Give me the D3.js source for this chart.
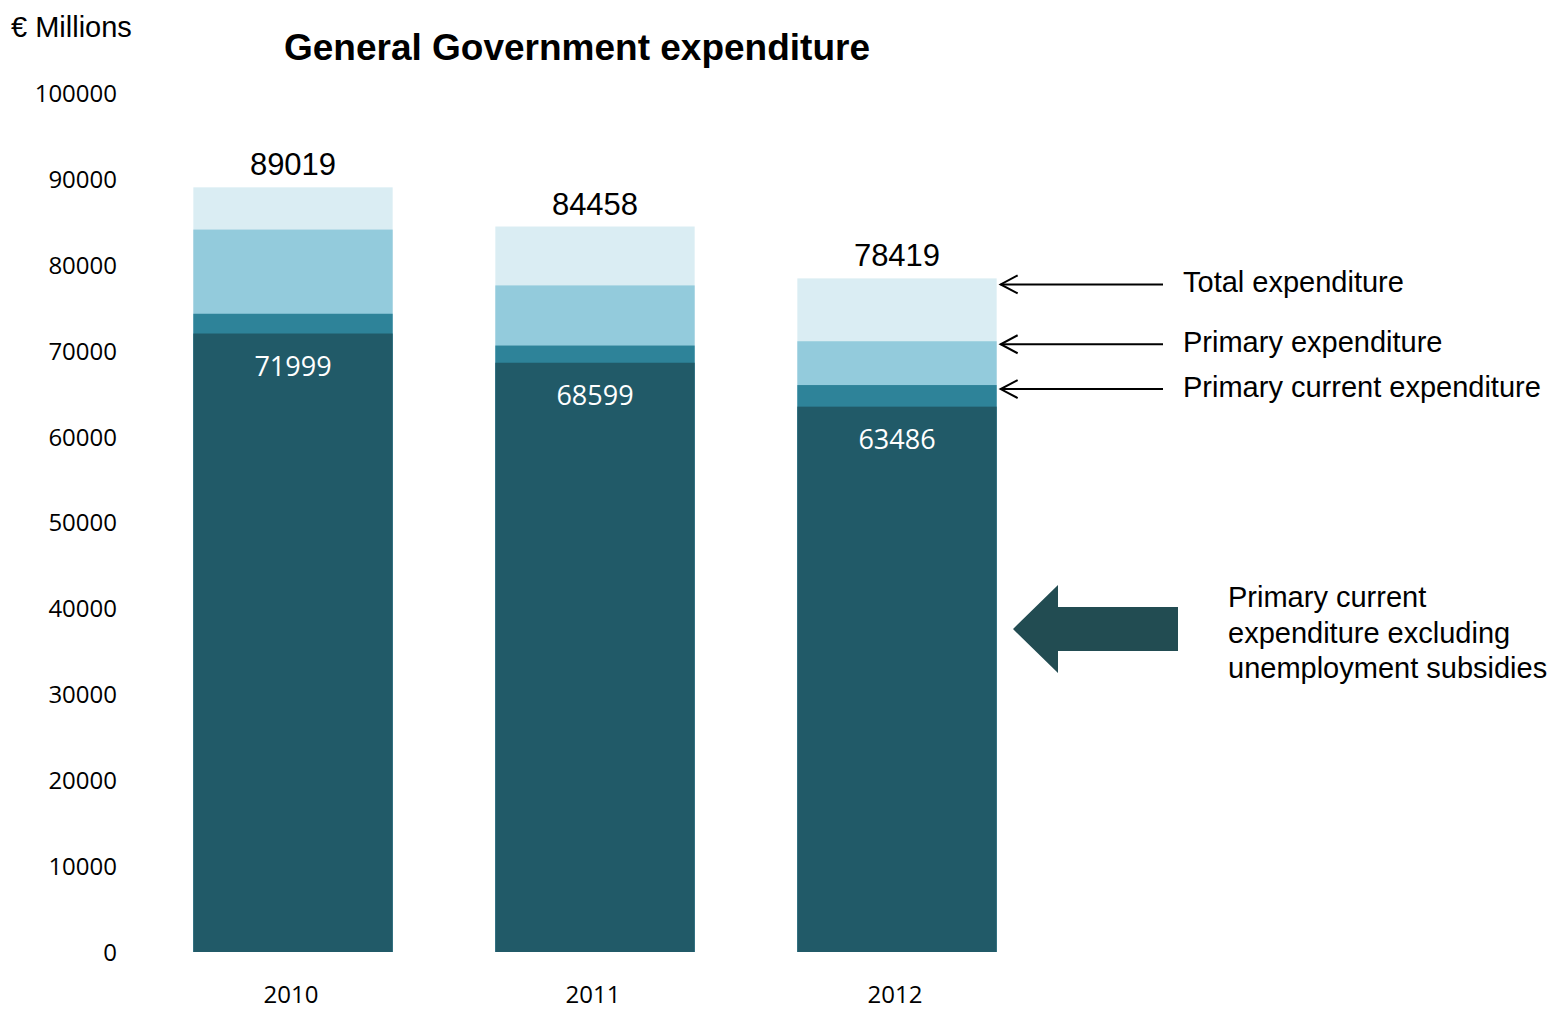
<!DOCTYPE html>
<html>
<head>
<meta charset="utf-8">
<script src="https://cdn.jsdelivr.net/npm/d3@7"></script>
<style>
  html, body { margin: 0; padding: 0; background: #fff; }
  svg { display: block; }
</style>
</head>
<body>
<svg id="chart" width="1553" height="1009"></svg>
<script>
// Years and expenditure levels (€ millions)
const years = ["2010", "2011", "2012"];
const totalExpenditure = [89019, 84458, 78419];
const primaryExpenditure = [84100, 77600, 71100];
const primaryCurrent = [74300, 70600, 66000];
const primaryCurrentExclUnemployment = [71999, 68599, 63486];
const yTicks = [0, 10000, 20000, 30000, 40000, 50000, 60000, 70000, 80000, 90000, 100000];

const layers = [
  { name: "Total expenditure", values: totalExpenditure, color: "#daedf3" },
  { name: "Primary expenditure", values: primaryExpenditure, color: "#93cbdc" },
  { name: "Primary current expenditure", values: primaryCurrent, color: "#2e8399" },
  { name: "Primary current expenditure excluding unemployment subsidies", values: primaryCurrentExclUnemployment, color: "#215a68" }
];

const svg = d3.select("#chart");

const x = d3.scaleBand().domain(years).range([142, 1048]).paddingInner(0.34).paddingOuter(0.17);
const y = d3.scaleLinear().domain([0, 100000]).range([952, 93]);

// Nested bars: each level drawn from the baseline, larger totals first
layers.forEach(layer => {
  svg.append("g").selectAll("rect").data(years).join("rect")
    .attr("x", d => x(d))
    .attr("width", x.bandwidth())
    .attr("y", (d, i) => y(layer.values[i]))
    .attr("height", (d, i) => y(0) - y(layer.values[i]))
    .attr("fill", layer.color);
});

// Y axis labels (no line, no ticks)
const yAxis = d3.axisLeft(y).tickValues(yTicks).tickFormat(d3.format("d")).tickSize(0).tickPadding(0);
const yG = svg.append("g").attr("transform", "translate(117,0)").call(yAxis);
yG.select(".domain").remove();
yG.selectAll("text")
  .attr("font-family", "'Open Sans', sans-serif")
  .attr("font-size", 24)
  .attr("fill", "#000")
  .attr("dy", "0.35em");

// X axis labels
const xAxis = d3.axisBottom(x).tickSize(0).tickPadding(0);
const xG = svg.append("g").attr("transform", "translate(-2,981)").call(xAxis);
xG.select(".domain").remove();
xG.selectAll("text")
  .attr("font-family", "'Open Sans', sans-serif")
  .attr("font-size", 24)
  .attr("fill", "#000")
  .attr("dy", "0.9em");

// Total value labels above bars
svg.append("g").selectAll("text").data(years).join("text")
  .attr("x", d => x(d) + x.bandwidth() / 2)
  .attr("y", (d, i) => y(totalExpenditure[i]) - 12)
  .attr("text-anchor", "middle")
  .attr("font-family", "'Liberation Sans', Arial, sans-serif")
  .attr("font-size", 31)
  .attr("fill", "#000")
  .text((d, i) => totalExpenditure[i]);

// Excluding-unemployment value labels inside the dark segment
svg.append("g").selectAll("text").data(years).join("text")
  .attr("x", d => x(d) + x.bandwidth() / 2)
  .attr("y", (d, i) => y(primaryCurrentExclUnemployment[i]) + 42)
  .attr("text-anchor", "middle")
  .attr("font-family", "'Open Sans', sans-serif")
  .attr("font-size", 27)
  .attr("fill", "#fff")
  .text((d, i) => primaryCurrentExclUnemployment[i]);

// Title and unit
svg.append("text")
  .attr("x", 577).attr("y", 60)
  .attr("text-anchor", "middle")
  .attr("font-family", "'Liberation Sans', Arial, sans-serif")
  .attr("font-weight", "bold")
  .attr("font-size", 37)
  .attr("fill", "#000")
  .text("General Government expenditure");

svg.append("text")
  .attr("x", 11).attr("y", 37)
  .attr("font-family", "'Liberation Sans', Arial, sans-serif")
  .attr("font-size", 29)
  .attr("fill", "#000")
  .text("€ Millions");

// Pointer arrows to the 2012 bar levels
const last = years.length - 1;
const pointerStart = x(years[last]) + x.bandwidth() + 4;
const pointerEnd = 1163;
const pointers = layers.slice(0, 3).map((l, k) => ({
  name: l.name,
  yPos: y(l.values[last]) + [6, 3, 4][k]
}));

const pg = svg.append("g");
pointers.forEach(p => {
  pg.append("line")
    .attr("x1", pointerStart).attr("x2", pointerEnd)
    .attr("y1", p.yPos).attr("y2", p.yPos)
    .attr("stroke", "#000").attr("stroke-width", 2);
  pg.append("path")
    .attr("d", `M${pointerStart + 17},${p.yPos - 9} L${pointerStart},${p.yPos} L${pointerStart + 17},${p.yPos + 9}`)
    .attr("fill", "none").attr("stroke", "#000").attr("stroke-width", 2);
  pg.append("text")
    .attr("x", 1183).attr("y", p.yPos + 8)
    .attr("font-family", "'Liberation Sans', Arial, sans-serif")
    .attr("font-size", 29)
    .attr("fill", "#000")
    .text(p.name);
});

// Block arrow for the dark segment
const ay = 629;
svg.append("path")
  .attr("d", `M1013,${ay} L1058,${ay - 44} L1058,${ay - 22} L1178,${ay - 22} L1178,${ay + 22} L1058,${ay + 22} L1058,${ay + 44} Z`)
  .attr("fill", "#224c52");

const blockText = svg.append("text")
  .attr("font-family", "'Liberation Sans', Arial, sans-serif")
  .attr("font-size", 29)
  .attr("fill", "#000");
["Primary current", "expenditure excluding", "unemployment subsidies"].forEach((line, i) => {
  blockText.append("tspan").attr("x", 1228).attr("y", 607 + i * 35.5).text(line);
});
</script>
</body>
</html>
